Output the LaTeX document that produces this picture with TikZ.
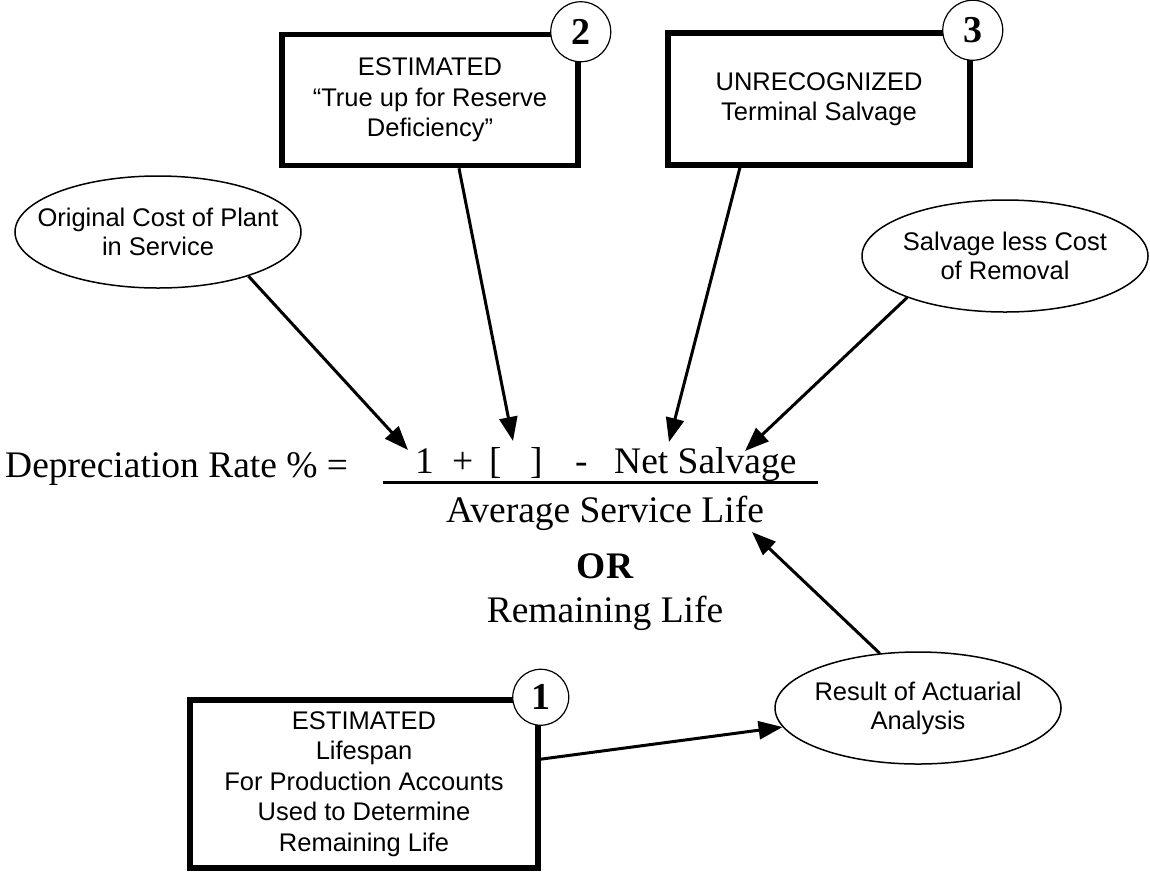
\documentclass[tikz,border=0pt]{standalone}
\usepackage{fontspec}
\usetikzlibrary{shapes.geometric,arrows.meta}
\newfontfamily\arialfont{Liberation Sans}
\newfontfamily\timesfont{Liberation Serif}
\begin{document}
\begin{tikzpicture}[x=1pt,y=-1pt,
    infobox/.style={draw,line width=5.5pt,align=center,inner sep=0pt,
      font=\arialfont\fontsize{25.5}{30.5}\selectfont},
    infoell/.style={draw,ellipse,line width=1.5pt,minimum width=286pt,
      minimum height=112pt,inner xsep=-40pt,inner ysep=0pt,align=center,
      font=\arialfont\fontsize{25.5}{29}\selectfont},
    numcirc/.style={draw,circle,line width=1.2pt,fill=white,inner sep=0pt,
      minimum size=60pt,font=\timesfont\bfseries\fontsize{38}{38}\selectfont},
    formula/.style={inner sep=0pt,anchor=base west,
      font=\timesfont\fontsize{37.5}{40}\selectfont},
    pointer/.style={line width=3pt,-{Triangle[length=24pt,width=18pt]}}]

        \useasboundingbox (0,0) rectangle (1150,871);

        % boxes with their numbers
        \node[infobox,minimum width=296pt,minimum height=131pt] (trueup) at (430,100)
          {ESTIMATED\\“True up for Reserve\\Deficiency”};
        \node[infobox,minimum width=302pt,minimum height=132pt] (unrec) at (819,99)
          {UNRECOGNIZED\\Terminal Salvage};
        \node[infobox,minimum width=348pt,minimum height=168pt] (life) at (364,784)
          {ESTIMATED\\Lifespan\\For Production Accounts\\Used to Determine\\Remaining Life};

        \node[numcirc] (n2) at (trueup.north east) {2};
        \node[numcirc] (n3) at (unrec.north east) {3};
        \node[numcirc,minimum size=56pt] (n1) at (life.north east) {1};

        % ellipses
        \node[infoell] (orig) at (158,232) {Original Cost of Plant\\in Service};
        \node[infoell] (salv) at (1005,256) {Salvage less Cost\\of Removal};
        \node[infoell] (act) at (918,708) {Result of Actuarial\\Analysis};

        % the formula
        \node[formula] (rate) at (5,477) {Depreciation Rate \% =};
        \node[formula] (one) at (415,473) {1};
        \node[formula] (plus) at (452,473) {+};
        \node[formula] (lbr) at (489,473) {[};
        \node[formula] (rbr) at (530,473) {]};
        \node[formula] (minus) at (575,473) {-};
        \node[formula] (netsal) at (614,473) {Net Salvage};
        \draw[line width=3pt] (383,482) -- (818,482);
        \node[formula,anchor=base] (avg) at (605,522) {Average Service Life};
        \node[formula,anchor=base,font=\timesfont\bfseries\fontsize{37.5}{40}\selectfont] (or) at (605,578) {OR};
        \node[formula,anchor=base] (rem) at (605,622) {Remaining Life};

        % arrow tips
        \coordinate (onetip) at (408,450);
        \coordinate (brktip) at (513,441);
        \coordinate (nettip) at (669,442);
        \coordinate (salvtip) at (745,451);
        \coordinate (lifetip) at (752,532);

        \draw[pointer] (orig.-26) -- (onetip);
        \draw[pointer] (trueup.-67) -- (brktip);
        \draw[pointer] (unrec.-139) -- (nettip);
        \draw[pointer] (salv.203) -- (salvtip);
        \draw[pointer] (life.8) -- (act.188);
        \draw[pointer] (act.125) -- (lifetip);
      \end{tikzpicture}
\end{document}
